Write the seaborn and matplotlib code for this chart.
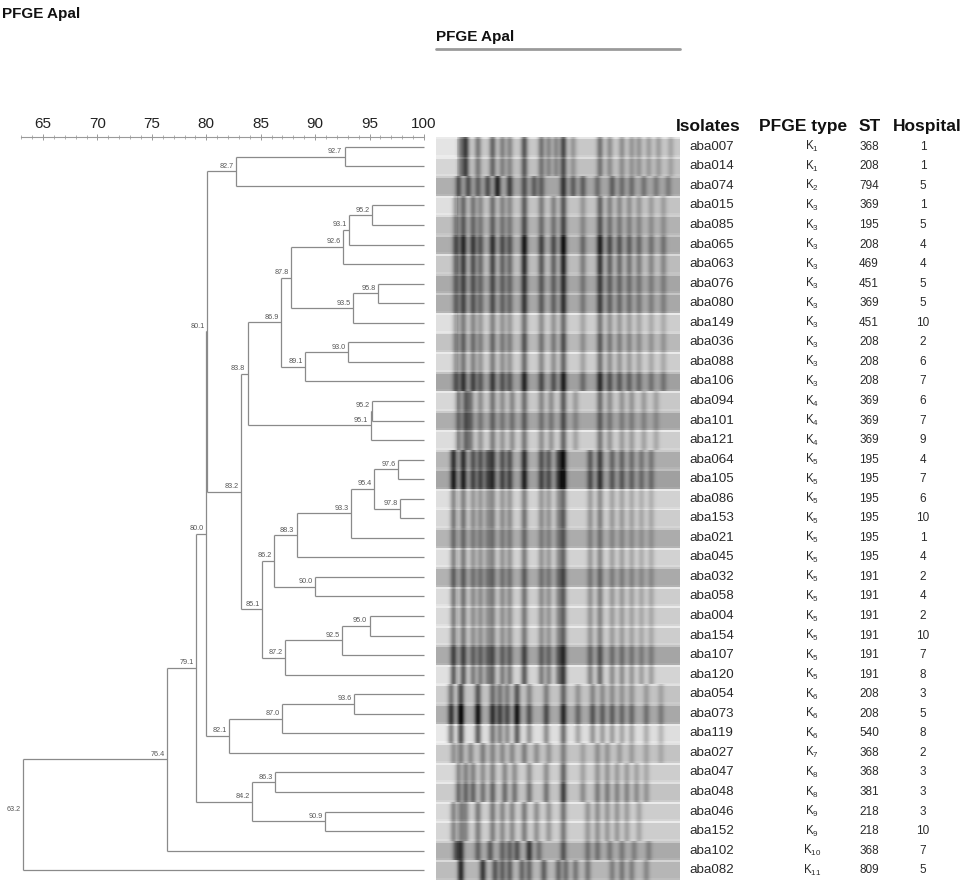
import numpy as np
import matplotlib
matplotlib.use("Agg")
import matplotlib.pyplot as plt
from matplotlib.lines import Line2D
import seaborn as sns

sns.set_style("white")
plt.rcParams['font.family'] = ['Liberation Sans', 'DejaVu Sans']
plt.rcParams['mathtext.default'] = 'regular'

# ---- table data ----
isolates = ['aba007', 'aba014', 'aba074', 'aba015', 'aba085', 'aba065', 'aba063', 'aba076',
            'aba080', 'aba149', 'aba036', 'aba088', 'aba106', 'aba094', 'aba101', 'aba121',
            'aba064', 'aba105', 'aba086', 'aba153', 'aba021', 'aba045', 'aba032', 'aba058',
            'aba004', 'aba154', 'aba107', 'aba120', 'aba054', 'aba073', 'aba119', 'aba027',
            'aba047', 'aba048', 'aba046', 'aba152', 'aba102', 'aba082']
pfge_type = [1, 1, 2] + [3] * 10 + [4] * 3 + [5] * 12 + [6] * 3 + [7, 8, 8, 9, 9, 10, 11]
st = [368, 208, 794, 369, 195, 208, 469, 451, 369, 451, 208, 208, 208, 369, 369, 369,
      195, 195, 195, 195, 195, 195, 191, 191, 191, 191, 191, 191, 208, 208, 540, 368,
      368, 381, 218, 218, 368, 809]
hospital = [1, 1, 5, 1, 5, 4, 4, 5, 5, 10, 2, 6, 7, 6, 7, 9, 4, 7, 6, 10, 1, 4, 2, 4,
            2, 10, 7, 8, 3, 5, 8, 2, 3, 3, 3, 10, 7, 5]

# ---- dendrogram merges: (child a, child b, similarity %); clusters numbered from 38 ----
merges = [
    (0, 1, 92.7), (38, 2, 82.7),
    (3, 4, 95.2), (40, 5, 93.1), (41, 6, 92.6),
    (7, 8, 95.8), (43, 9, 93.5), (42, 44, 87.8),
    (10, 11, 93.0), (46, 12, 89.1), (45, 47, 86.9),
    (13, 14, 95.2), (49, 15, 95.1), (48, 50, 83.8),
    (16, 17, 97.6), (18, 19, 97.8), (52, 53, 95.4), (54, 20, 93.3), (55, 21, 88.3),
    (22, 23, 90.0), (56, 57, 86.2),
    (24, 25, 95.0), (59, 26, 92.5), (60, 27, 87.2), (58, 61, 85.1),
    (51, 62, 83.2), (39, 63, 80.1),
    (28, 29, 93.6), (65, 30, 87.0), (66, 31, 82.1), (64, 67, 80.0),
    (32, 33, 86.3), (34, 35, 90.9), (69, 70, 84.2), (68, 71, 79.1),
    (72, 36, 76.4), (73, 37, 63.2),
]

# ---- gel: lane background grey, lighter well area, band contrast, bands per PFGE type ----
lane_bg = [200, 192, 165, 195, 178, 168, 188, 165, 168, 205, 185, 205, 160, 200, 165, 205,
           172, 160, 210, 205, 172, 210, 170, 205, 205, 205, 165, 212, 195, 168, 222, 195,
           205, 195, 205, 205, 170, 182]
lane_well = [28, 22, 10, 28, 12, 5, 12, 5, 5, 18, 10, 12, 5, 15, 8, 15,
             10, 5, 12, 10, 8, 12, 8, 14, 12, 10, 6, 12, 10, 6, 10, 8,
             10, 8, 10, 8, 6, 6]
lane_contrast = [1.0, 0.9, 1.0, 0.9, 0.9, 1.3, 1.25, 1.0, 1.0, 0.8, 0.9, 0.85, 1.1, 0.9, 0.75, 0.85,
                 1.25, 1.3, 0.8, 0.9, 0.7, 0.85, 0.8, 0.9, 0.85, 0.85, 1.0, 1.2, 0.95, 1.3, 1.1, 0.8,
                 0.85, 1.1, 0.95, 0.9, 1.0, 1.1]
bands = {
    1: [(.10, .5), (.12, .95), (.17, .55), (.23, .7), (.27, .5), (.30, .45), (.36, .8), (.43, .6),
        (.46, .45), (.49, .45), (.52, .9), (.56, .35), (.67, .6), (.71, .4), (.76, .4), (.80, .35),
        (.83, .35), (.87, .3), (.91, .3), (.96, .25)],
    2: [(.09, .6), (.13, .6), (.17, .5), (.21, .6), (.25, .9), (.30, .7), (.36, .6), (.40, .5),
        (.43, .5), (.52, .8), (.56, .5), (.60, .5), (.66, .4), (.72, .5), (.76, .4), (.80, .4),
        (.85, .35), (.90, .3), (.95, .3)],
    3: [(.08, .55), (.11, .7), (.15, .6), (.18, .45), (.23, .65), (.27, .5), (.30, .45), (.36, .8),
        (.43, .55), (.48, .5), (.52, .85), (.60, .35), (.67, .75), (.71, .5), (.75, .45), (.79, .4),
        (.83, .35), (.88, .3), (.93, .3)],
    4: [(.09, .6), (.12, .8), (.14, .6), (.18, .45), (.23, .65), (.27, .45), (.31, .5), (.36, .7),
        (.43, .5), (.47, .45), (.52, .85), (.57, .35), (.67, .7), (.71, .45), (.76, .4), (.80, .4),
        (.85, .35), (.90, .3)],
    5: [(.07, .75), (.11, .7), (.15, .5), (.18, .5), (.21, .45), (.23, .6), (.27, .5), (.30, .5),
        (.36, .7), (.43, .5), (.46, .45), (.50, .5), (.52, .85), (.63, .45), (.67, .6), (.72, .4),
        (.76, .4), (.80, .35), (.84, .3), (.88, .3)],
    6: [(.06, .65), (.10, .9), (.17, .8), (.23, .65), (.26, .55), (.29, .5), (.33, .8), (.38, .45),
        (.45, .5), (.52, .7), (.58, .35), (.64, .45), (.68, .4), (.72, .4), (.76, .35), (.80, .35),
        (.86, .3), (.92, .25)],
    7: [(.07, .5), (.10, .6), (.14, .5), (.19, .6), (.23, .55), (.27, .5), (.31, .5), (.36, .6),
        (.41, .45), (.46, .4), (.52, .6), (.60, .3), (.66, .45), (.70, .4), (.75, .35), (.80, .35),
        (.86, .3), (.92, .25)],
    8: [(.09, .55), (.12, .6), (.15, .6), (.19, .5), (.23, .6), (.28, .55), (.32, .5), (.38, .5),
        (.45, .5), (.52, .85), (.60, .35), (.66, .45), (.70, .45), (.74, .4), (.78, .4), (.82, .35),
        (.86, .3)],
    9: [(.07, .6), (.10, .55), (.12, .5), (.17, .6), (.23, .6), (.27, .5), (.31, .5), (.36, .6),
        (.41, .45), (.46, .4), (.52, .65), (.62, .4), (.66, .45), (.70, .4), (.74, .4), (.78, .35),
        (.83, .3)],
    10: [(.08, .6), (.10, .8), (.17, .5), (.22, .55), (.27, .5), (.30, .5), (.33, .6), (.38, .8),
         (.42, .4), (.52, .6), (.62, .4), (.66, .4), (.71, .35), (.76, .35), (.81, .3), (.87, .3)],
    11: [(.10, .9), (.19, .8), (.24, .6), (.27, .55), (.30, .55), (.35, .5), (.38, .5), (.44, .55),
         (.50, .5), (.53, .45), (.57, .4), (.62, .4), (.72, .35), (.76, .4), (.80, .35), (.86, .3)],
}

n = len(isolates)
W, H = 964, 885
fig = plt.figure(figsize=(W / 100, H / 100), dpi=100)
top_px, bot_px = 137, 880
b = (H - bot_px) / H
h = (bot_px - top_px) / H

# ---------------- dendrogram ----------------
ax_d = fig.add_axes([0, b, 436 / W, h])
px_per_unit = 10.886
ax_d.set_xlim(65 - 43 / px_per_unit, 65 + (436 - 43) / px_per_unit)
ax_d.set_ylim(n - 0.5, -0.5)

pos = {i: (100.0, float(i)) for i in range(n)}
line_kw = dict(color='#8a8a8a', lw=0.9, solid_capstyle='butt')
for k, (a, c, sim) in enumerate(merges):
    xa, ya = pos[a]
    xc, yc = pos[c]
    ax_d.plot([sim, sim], [ya, yc], **line_kw)
    ax_d.plot([sim, xa], [ya, ya], **line_kw)
    ax_d.plot([sim, xc], [yc, yc], **line_kw)
    ym = (ya + yc) / 2
    pos[n + k] = (sim, ym)
    ax_d.text(sim - 0.22, ym - 0.08, f"{sim:.1f}", ha='right', va='bottom',
              fontsize=5.2, color='#555555')

for s in ['left', 'right', 'bottom']:
    ax_d.spines[s].set_visible(False)
ax_d.spines['top'].set_bounds(63, 100)
ax_d.spines['top'].set_color('#9a9a9a')
ax_d.spines['top'].set_linewidth(0.8)
ax_d.xaxis.tick_top()
ax_d.set_xticks(np.arange(65, 101, 5))
ax_d.set_xticks(np.arange(63, 101, 1), minor=True)
ax_d.tick_params(axis='x', which='major', direction='inout', length=4, width=0.7,
                 color='#9a9a9a', labelsize=11, labelcolor='#222222', pad=2)
ax_d.tick_params(axis='x', which='minor', direction='inout', length=2.5, width=0.6,
                 color='#a5a5a5')
ax_d.set_yticks([])

# ---------------- gel image ----------------
ax_g = fig.add_axes([436 / W, b, 244 / W, h])
cols = 244
rows_per_lane = 10
xs = np.arange(cols)
gel = np.zeros((n * rows_per_lane, cols))
for i in range(n):
    profile = np.full(cols, float(lane_bg[i]))
    profile[:int(0.09 * cols)] += lane_well[i]
    for p, d in bands[pfge_type[i]]:
        profile -= d * lane_contrast[i] * 135 * np.exp(-0.5 * ((xs - p * cols) / 2.4) ** 2)
    profile = np.clip(profile, 15, 245)
    block = np.tile(profile, (rows_per_lane, 1))
    block[0] = np.clip(profile + 30, 0, 235)
    block[-1] = np.clip(profile + 8, 0, 240)
    gel[i * rows_per_lane:(i + 1) * rows_per_lane] = block
sns.heatmap(gel, cmap='gray', vmin=0, vmax=255, cbar=False, xticklabels=False,
            yticklabels=False, ax=ax_g, rasterized=True)

# ---------------- table of isolates ----------------
ax_t = fig.add_axes([680 / W, b, (W - 680) / W, h])
ax_t.set_xlim(0, W - 680)
ax_t.set_ylim(n - 0.5, -0.5)
ax_t.axis('off')
hy = -1.02
hdr = dict(fontsize=12.5, fontweight='bold', color='#111111', va='center')
ax_t.text(-4, hy, 'Isolates', ha='left', **hdr)
ax_t.text(123, hy, 'PFGE type', ha='center', **hdr)
ax_t.text(190, hy, 'ST', ha='center', **hdr)
ax_t.text(247, hy, 'Hospital', ha='center', **hdr)
cell = dict(fontsize=9.6, color='#2a2a2a', va='center')
for i in range(n):
    ax_t.text(9, i, isolates[i], ha='left', **cell)
    ax_t.text(132, i, r'K$_{%d}$' % pfge_type[i], ha='center', fontsize=8.3,
              color='#2a2a2a', va='center')
    ax_t.text(189, i, str(st[i]), ha='center', fontsize=8.5, color='#2a2a2a', va='center')
    ax_t.text(243, i, str(hospital[i]), ha='center', fontsize=8.5, color='#2a2a2a', va='center')

# ---------------- titles ----------------
fig.text(2 / W, 1 - 14 / H, 'PFGE Apal', ha='left', va='center', fontsize=11,
         fontweight='bold', color='#111111')
fig.text(436 / W, 1 - 37 / H, 'PFGE Apal', ha='left', va='center', fontsize=11,
         fontweight='bold', color='#111111')
fig.add_artist(Line2D([436 / W, 680 / W], [1 - 49 / H, 1 - 49 / H], color='#9a9a9a', lw=2))

fig.savefig('out.png', dpi=100)
